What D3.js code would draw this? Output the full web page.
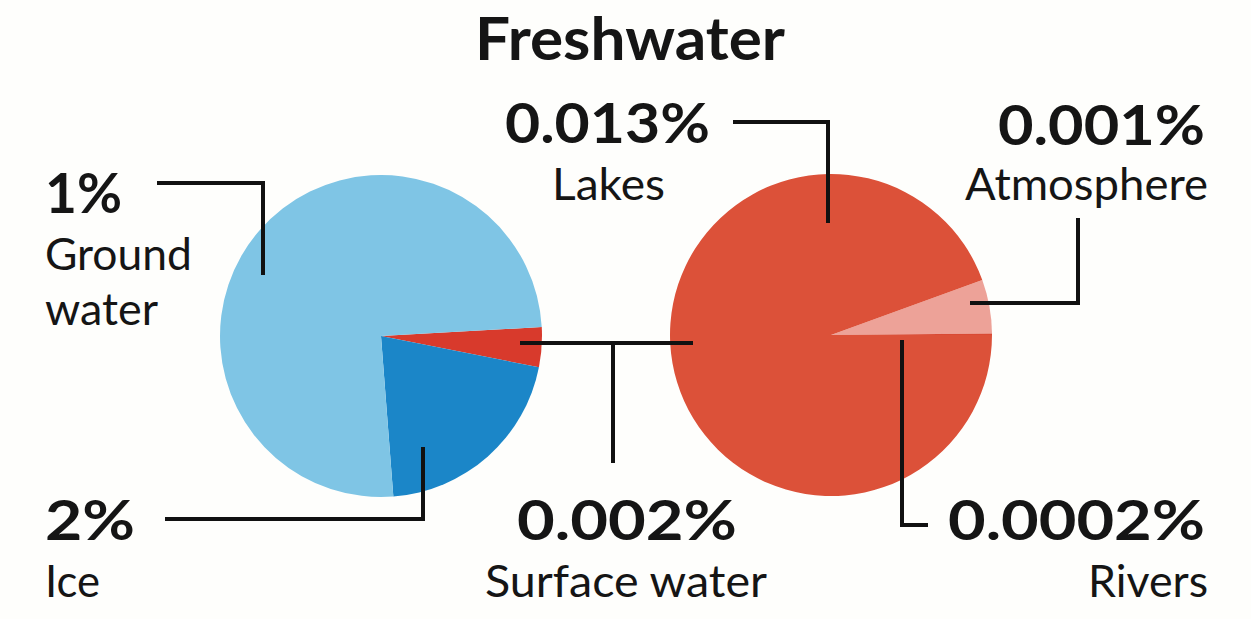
<!DOCTYPE html>
<html>
<head>
<meta charset="utf-8">
<script src="https://cdn.jsdelivr.net/npm/d3@7"></script>
<style>
  body { margin: 0; background: #fefefc; }
  text { font-family: Lato, "Open Sans", sans-serif; fill: #151515; }
</style>
</head>
<body>
<div id="chart"></div>
<script>
// slice sizes as drawn (degrees of the circle), plus the printed labels
var leftNames = ["Surface water", "Ice", "Ground water"];
var leftShares = [14.4, 74.4, 271.2];
var rightNames = ["Atmosphere", "Rivers", "Lakes"];
var rightShares = [19.5, 0.5, 340];
var pctLabels = ["1%", "2%", "0.002%", "0.013%", "0.001%", "0.0002%"];
var nameLabels = [["Ground", "water"], ["Ice"], ["Surface water"], ["Lakes"], ["Atmosphere"], ["Rivers"]];

var WIDTH = 1251, HEIGHT = 619;

var svg = d3.select("#chart").append("svg")
  .attr("width", WIDTH).attr("height", HEIGHT);

svg.append("text")
  .attr("x", 475).attr("y", 60)
  .attr("textLength", 310).attr("lengthAdjust", "spacingAndGlyphs")
  .style("font-size", "60px").style("font-weight", 700)
  .text("Freshwater");

function drawPie(cx, cy, r, names, shares, colors, start) {
  var color = d3.scaleOrdinal().domain(names).range(colors);
  var pie = d3.pie().sort(null)
    .value(function(d, i) { return shares[i]; })
    .startAngle(start * Math.PI / 180)
    .endAngle((start + 360) * Math.PI / 180);
  var arc = d3.arc().innerRadius(0).outerRadius(r);
  var g = svg.append("g").attr("transform", "translate(" + cx + "," + cy + ")");
  g.selectAll("path").data(pie(names)).enter()
    .append("path")
    .attr("d", arc)
    .attr("fill", function(d) { return color(d.data); });
}

drawPie(381, 336, 161, leftNames, leftShares, ["#d83a2c", "#1b86c8", "#7fc5e5"], 86.8);
drawPie(831, 335, 161, rightNames, rightShares, ["#eda298", "#d94a34", "#dc5139"], 70);

// leader lines
var leaders = [
  [[157, 183], [263, 183], [263, 275]],
  [[165, 519], [423, 519], [423, 447]],
  [[520, 343], [693, 343]],
  [[613, 343], [613, 463]],
  [[733, 122], [828, 122], [828, 223]],
  [[1078, 218], [1078, 303], [970, 303]],
  [[902, 340], [902, 525], [928, 525]]
];
var line = d3.line();
svg.selectAll(".leader").data(leaders).enter()
  .append("path")
  .attr("class", "leader")
  .attr("d", line)
  .attr("fill", "none")
  .attr("stroke", "#111")
  .attr("stroke-width", 4);

// label layout: [x, pct baseline, pct width, name baseline, name widths, name x]
var layout = [
  { x: 45, y: 213, w: 77, ny: 270, nx: 45, nw: [147, 113], lh: 55 },
  { x: 45, y: 540, w: 90, ny: 597, nx: 45, nw: [55] },
  { x: 517, y: 540, w: 220, ny: 597, nx: 485, nw: [282] },
  { x: 505, y: 143, w: 205, ny: 200, nx: 552, nw: [113] },
  { x: 998, y: 145, w: 207, ny: 200, nx: 965, nw: [243] },
  { x: 948, y: 540, w: 257, ny: 597, nx: 1088, nw: [120] }
];

pctLabels.forEach(function(p, i) {
  var L = layout[i];
  svg.append("text")
    .attr("x", L.x).attr("y", L.y)
    .attr("textLength", L.w).attr("lengthAdjust", "spacingAndGlyphs")
    .style("font-size", "56px").style("font-weight", 700)
    .text(p);
  nameLabels[i].forEach(function(n, j) {
    svg.append("text")
      .attr("x", L.nx).attr("y", L.ny + j * (L.lh || 0))
      .attr("textLength", L.nw[j]).attr("lengthAdjust", "spacingAndGlyphs")
      .style("font-size", "44px")
      .text(n);
  });
});
</script>
</body>
</html>
